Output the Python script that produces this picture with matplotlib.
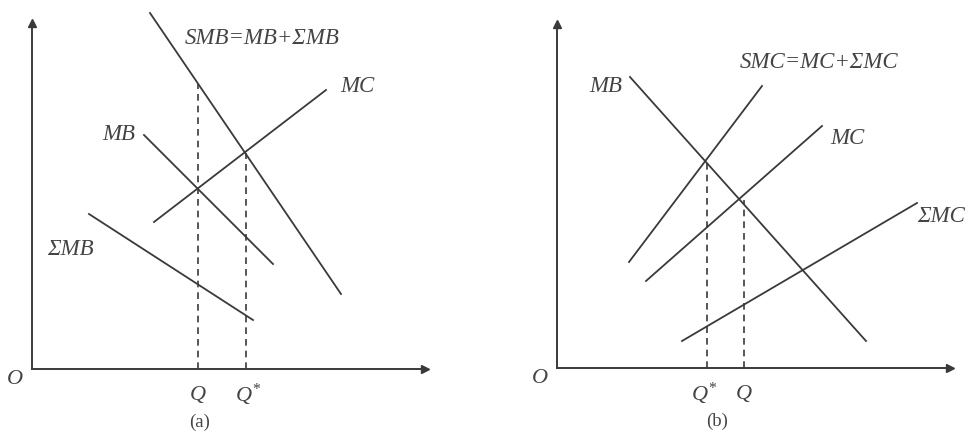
import matplotlib
matplotlib.use('Agg')
from matplotlib import pyplot as plt

plt.rcParams['font.family'] = ['Liberation Serif', 'DejaVu Serif']
plt.rcParams['mathtext.fontset'] = 'custom'
plt.rcParams['mathtext.it'] = 'Liberation Serif:italic'
plt.rcParams['mathtext.rm'] = 'Liberation Serif'

W, H = 976, 439
INK = '#3a3a3a'
TXT = '#444444'

# panel (a): curves as (Q0, P0, Q1, P1) endpoints, origin at the axes corner
a_curves = {
    'SMB': (118, 356, 309, 75),
    'MC': (122, 147, 294, 279),
    'MB': (112, 234, 241, 105),
    'SMB_sum': (57, 155, 221, 49),
}
a_drops = [(166, 285), (214, 216)]          # (Q, height) of dashed guides
a_labels = [('SMB=MB+ΣMB', 153, 332, 'left'), ('MC', 308, 283, 'left'),
            ('MB', 103, 235, 'right'), ('ΣMB', 15, 120, 'left')]
a_ticks = [('$Q$', 166), ('$Q^{*}$', 216)]

# panel (b)
b_curves = {
    'MB': (73, 291, 309, 27),
    'SMC': (72, 106, 205, 282),
    'MC': (89, 87, 265, 242),
    'MC_sum': (125, 27, 360, 165),
}
b_drops = [(150, 207), (187, 168)]
b_labels = [('SMC=MC+ΣMC', 183, 306, 'left'), ('MB', 65, 283, 'right'),
            ('MC', 273, 231, 'left'), ('ΣMC', 360, 152, 'left')]
b_ticks = [('$Q^{*}$', 147), ('$Q$', 187)]


def panel(fig, ox, oy, w, h, curves, drops, labels, ticks, caption, cap_x):
    ax = fig.add_axes([ox / W, (H - oy) / H, w / W, h / H])
    ax.set_xlim(0, w)
    ax.set_ylim(0, h)
    ax.patch.set_alpha(0)
    for s in ['top', 'right']:
        ax.spines[s].set_visible(False)
    for s in ['left', 'bottom']:
        ax.spines[s].set_color(INK)
        ax.spines[s].set_linewidth(1.4)
    ax.set_xticks([])
    ax.set_yticks([])
    # arrow heads on the axes
    ax.plot(1, 0, '>', color=INK, ms=6, transform=ax.transAxes, clip_on=False)
    ax.plot(0, 1, '^', color=INK, ms=6, transform=ax.transAxes, clip_on=False)

    for q0, p0, q1, p1 in curves.values():
        ax.plot([q0, q1], [p0, p1], color=INK, lw=1.3, clip_on=False)
    for q, top in drops:
        ax.plot([q, q], [0, top], color=INK, lw=1.2, ls=(0, (4, 3)))
    for txt, x, y, ha in labels:
        ax.text(x, y, txt, ha=ha, va='center', fontsize=16.5,
                style='italic', color=TXT)
    ax.text(-17, -10, 'O', ha='center', va='center', fontsize=16,
            style='italic', color=TXT)
    for txt, x in ticks:
        ax.text(x, -25, txt, ha='center', va='center', fontsize=16,
                color=TXT)
    ax.text(cap_x, -52, caption, ha='center', va='center', fontsize=13.5,
            color=TXT)
    return ax


fig = plt.figure(figsize=(W / 100, H / 100), dpi=100)
fig.patch.set_facecolor('white')

panel(fig, 32, 370, 393, 346, a_curves, a_drops, a_labels, a_ticks, '(a)', 168)
panel(fig, 557, 369, 393, 344, b_curves, b_drops, b_labels, b_ticks, '(b)', 160)

fig.savefig('out.png', dpi=100)
